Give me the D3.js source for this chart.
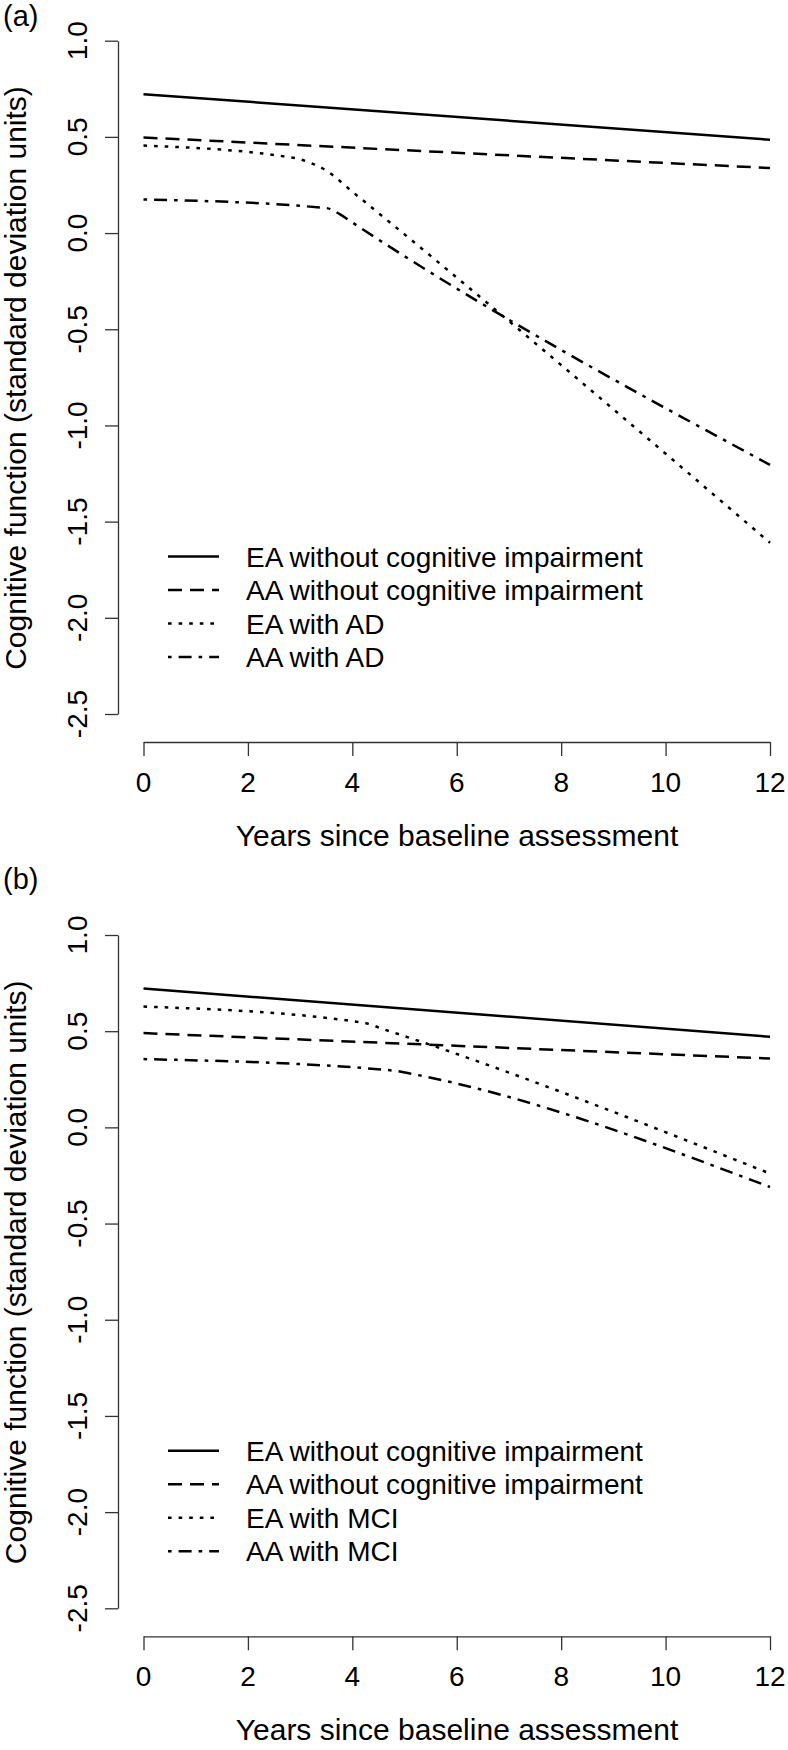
<!DOCTYPE html>
<html>
<head>
<meta charset="utf-8">
<script src="https://cdn.jsdelivr.net/npm/d3@7"></script>
<style>
  body { margin: 0; background: #fff; }
  svg { display: block; }
  text { font-family: "Liberation Sans", Arial, Helvetica, sans-serif; fill: #000; }
</style>
</head>
<body>
<script>
// ---------- data ----------
const xTicks = [0, 2, 4, 6, 8, 10, 12];
const yTicks = [1.0, 0.5, 0.0, -0.5, -1.0, -1.5, -2.0, -2.5];
const yTickLabels = ["1.0", "0.5", "0.0", "-0.5", "-1.0", "-1.5", "-2.0", "-2.5"];
const xTitle = "Years since baseline assessment";
const yTitle = "Cognitive function (standard deviation units)";

// panel (a)
const panelALabel = "(a)";
const aLegend = ["EA without cognitive impairment", "AA without cognitive impairment", "EA with AD", "AA with AD"];
const aEAnoCI  = [[0, 0.722], [12, 0.485]];
const aAAnoCI  = [[0, 0.497], [12, 0.338]];
const aEAwithAD = [[0, 0.455], [2.9, 0.39], [3.15, 0.37], [3.5, 0.325], [4, 0.215], [12, -1.61]];
const aAAwithAD = [[0, 0.175], [3.5, 0.13], [3.75, 0.1], [4, 0.055], [12, -1.205]];

// panel (b)
const panelBLabel = "(b)";
const bLegend = ["EA without cognitive impairment", "AA without cognitive impairment", "EA with MCI", "AA with MCI"];
const bEAnoCI  = [[0, 0.722], [12, 0.471]];
const bAAnoCI  = [[0, 0.49], [12, 0.358]];
const bEAwithMCI = [[0, 0.628], [4.2, 0.545], [4.6, 0.51], [12, -0.24]];
const bAAwithMCI = [[0, 0.355], [4.8, 0.295], [5.1, 0.28], [12, -0.31]];

// ---------- drawing ----------
const W = 788, H = 1750;
const svg = d3.select("body").append("svg").attr("width", W).attr("height", H);
svg.append("rect").attr("width", W).attr("height", H).attr("fill", "#fff");

const styles = [
  { dash: null },
  { dash: "14,8" },
  { dash: "3.6,7" },
  { dash: "3.6,7,13,7" }
];

const x = d3.scaleLinear().domain([0, 12]).range([143.5, 770]);

function panel(offset, label, legendLabels, seriesList) {
  const g = svg.append("g").attr("transform", `translate(0,${offset})`);
  const y = d3.scaleLinear().domain([-2.5, 1.0]).range([714, 40.7]);
  const axisColor = "#333";

  // y axis
  const yAxis = g.append("g").attr("transform", "translate(118,0)")
    .call(d3.axisLeft(y).tickValues(yTicks).tickSize(13).tickSizeOuter(0).tickFormat(""));
  yAxis.selectAll("path, line").attr("stroke", axisColor).attr("stroke-width", 1.3);
  g.selectAll(".ylab").data(yTicks).enter().append("text")
    .attr("transform", d => `translate(87,${y(d)}) rotate(-90)`)
    .attr("text-anchor", "middle").attr("font-size", 28)
    .text((d, i) => yTickLabels[i]);

  // x axis
  const xAxis = g.append("g").attr("transform", "translate(0,742)")
    .call(d3.axisBottom(x).tickValues(xTicks).tickSize(14).tickSizeOuter(0).tickFormat(""));
  xAxis.selectAll("path, line").attr("stroke", axisColor).attr("stroke-width", 1.3);
  g.selectAll(".xlab").data(xTicks).enter().append("text")
    .attr("x", d => x(d)).attr("y", 792)
    .attr("text-anchor", "middle").attr("font-size", 28)
    .text(d => d);

  // titles
  g.append("text").attr("x", 457).attr("y", 846).attr("text-anchor", "middle")
    .attr("font-size", 30).text(xTitle);
  g.append("text").attr("transform", "translate(25.5,378) rotate(-90)")
    .attr("text-anchor", "middle").attr("font-size", 30).text(yTitle);

  // lines
  const line = d3.line().x(d => x(d[0])).y(d => y(d[1])).curve(d3.curveMonotoneX);
  seriesList.forEach((s, i) => {
    g.append("path").datum(s).attr("d", line)
      .attr("fill", "none").attr("stroke", "#000").attr("stroke-width", 2.5)
      .attr("stroke-dasharray", styles[i].dash);
  });

  // legend
  const rowY = [556.5, 590, 623.5, 657];
  legendLabels.forEach((t, i) => {
    g.append("line").attr("x1", 168).attr("x2", 219).attr("y1", rowY[i]).attr("y2", rowY[i])
      .attr("stroke", "#000").attr("stroke-width", 2.5)
      .attr("stroke-dasharray", styles[i].dash);
    g.append("text").attr("x", 246).attr("y", rowY[i] + 10).attr("font-size", 28).text(t);
  });
}

panel(0, panelALabel, aLegend, [aEAnoCI, aAAnoCI, aEAwithAD, aAAwithAD]);
panel(894.3, panelBLabel, bLegend, [bEAnoCI, bAAnoCI, bEAwithMCI, bAAwithMCI]);

svg.append("text").attr("x", 3).attr("y", 26).attr("font-size", 29).text(panelALabel);
svg.append("text").attr("x", 3).attr("y", 889).attr("font-size", 29).text(panelBLabel);
</script>
</body>
</html>
